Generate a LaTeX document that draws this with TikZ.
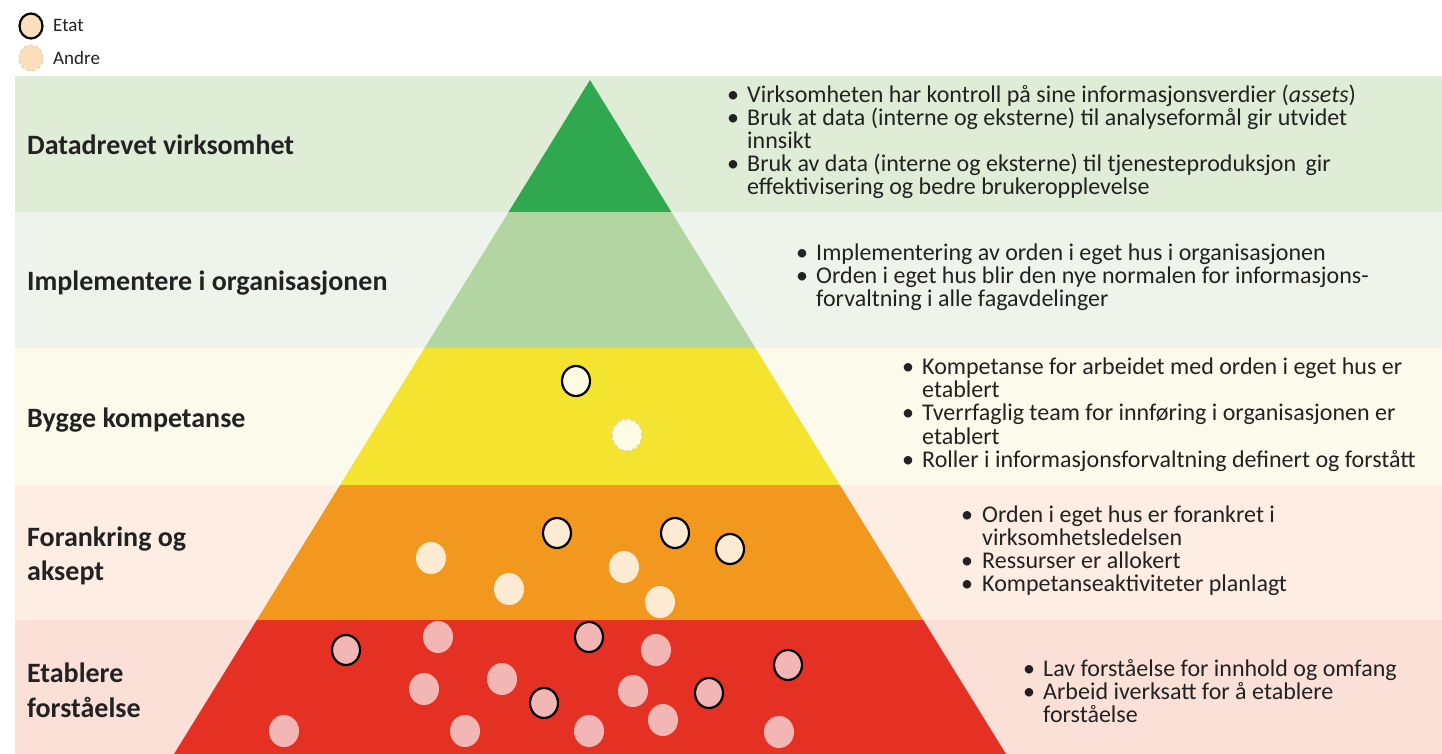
\documentclass[tikz,border=0pt]{standalone}
\usepackage{fontspec}
\setmainfont{Carlito}
\usetikzlibrary{shapes.geometric}
\definecolor{bandA}{HTML}{DFECD6}
\definecolor{bandB}{HTML}{EEF4EC}
\definecolor{bandC}{HTML}{FCFAEA}
\definecolor{bandD}{HTML}{FDEDE2}
\definecolor{bandE}{HTML}{FBE0D7}
\definecolor{pyrA}{HTML}{2FA84F}
\definecolor{pyrB}{HTML}{B2D5A2}
\definecolor{pyrC}{HTML}{F4E32F}
\definecolor{pyrD}{HTML}{F3981F}
\definecolor{pyrE}{HTML}{E43123}
\definecolor{txt}{HTML}{222222}
\definecolor{creamC}{HTML}{FFFBE2}
\definecolor{creamD}{HTML}{FCEBD2}
\definecolor{pinkE}{HTML}{F2B7B5}
\definecolor{legfill}{HTML}{FBDFBC}
\definecolor{dashcol}{HTML}{DCD3A8}
\tikzset{
  dot/.style={ellipse, minimum width=30pt, minimum height=32pt, inner sep=0pt},
  etat/.style={dot, draw=black, line width=2.2pt, minimum width=28pt, minimum height=30pt},
  andre/.style={dot},
  lab/.style={anchor=base west, inner sep=0pt, text=txt, font=\fontsize{28}{31}\selectfont\bfseries},
  bul/.style={anchor=base west, inner sep=0pt, text=txt, font=\fontsize{24}{26}\selectfont},
  leg/.style={anchor=base west, inner sep=0pt, text=txt, font=\fontsize{19}{21}\selectfont},
}
\begin{document}
\begin{tikzpicture}[x=1pt,y=-1pt]
\useasboundingbox (0,0) rectangle (1442,754);
\clip (0,0) rectangle (1442,754);
\fill[white] (0,0) rectangle (1442,754);
% bands
\fill[bandA] (15,76) rectangle (1442,212);
\fill[bandB] (15,212) rectangle (1442,348);
\fill[bandC] (15,348) rectangle (1442,485);
\fill[bandD] (15,485) rectangle (1442,620);
\fill[bandE] (15,620) rectangle (1442,754);
% pyramid
\fill[pyrA] (590,80) -- (671.4,212) -- (508.6,212) -- cycle;
\fill[pyrB] (508.6,212) -- (671.4,212) -- (755.4,348) -- (424.6,348) -- cycle;
\fill[pyrC] (424.6,348) -- (755.4,348) -- (839.9,485) -- (340.1,485) -- cycle;
\fill[pyrD] (340.1,485) -- (839.9,485) -- (923.2,620) -- (256.8,620) -- cycle;
\fill[pyrE] (256.8,620) -- (923.2,620) -- (1006,754) -- (174,754) -- cycle;
% legend
\node[etat, fill=legfill, minimum width=23pt, minimum height=25pt] (legE) at (31,26) {};
\node[andre, fill=legfill, draw=dashcol, dashed, line width=1pt, minimum width=24pt, minimum height=26pt] (legA) at (31,58) {};
\node[leg] (legEt) at (53,32) {Etat};
\node[leg] (legAt) at (53,65) {Andre};
% labels
\node[lab] (l1) at (27,155) {Datadrevet virksomhet};
\node[lab] (l2) at (27,290) {Implementere i organisasjonen};
\node[lab] (l3) at (27,427) {Bygge kompetanse};
\node[lab] (l4a) at (27,546) {Forankring og};
\node[lab] (l4b) at (27,580) {aksept};
\node[lab] (l5a) at (27,682) {Etablere};
\node[lab] (l5b) at (27,717) {forståelse};
% band 1 text
\node[bul] (b1a) at (727,103) {•};
\node[bul] (t1a) at (747,103) {Virksomheten har kontroll på sine informasjonsverdier (\textit{assets})};
\node[bul] (b1b) at (727,126) {•};
\node[bul] (t1b) at (747,126) {Bruk at data (interne og eksterne) til analyseformål gir utvidet};
\node[bul] (t1c) at (747,149) {innsikt};
\node[bul] (b1d) at (727,172) {•};
\node[bul] (t1d) at (747,172) {Bruk av data (interne og eksterne) til tjenesteproduksjon\, gir};
\node[bul] (t1e) at (747,195) {effektivisering og bedre brukeropplevelse};
% band 2 text
\node[bul] (b2a) at (796,260) {•};
\node[bul] (t2a) at (816,260) {Implementering av orden i eget hus i organisasjonen};
\node[bul] (b2b) at (796,283) {•};
\node[bul] (t2b) at (816,283) {Orden i eget hus blir den nye normalen for informasjons-};
\node[bul] (t2c) at (816,306) {forvaltning i alle fagavdelinger};
% band 3 text
\node[bul] (b3a) at (902,374) {•};
\node[bul] (t3a) at (922,374) {Kompetanse for arbeidet med orden i eget hus er};
\node[bul] (t3b) at (922,397) {etablert};
\node[bul] (b3c) at (902,420) {•};
\node[bul] (t3c) at (922,420) {Tverrfaglig team for innføring i organisasjonen er};
\node[bul] (t3d) at (922,444) {etablert};
\node[bul] (b3e) at (902,467) {•};
\node[bul] (t3e) at (922,467) {Roller i informasjonsforvaltning definert og forstått};
% band 4 text
\node[bul] (b4a) at (961,522) {•};
\node[bul] (t4a) at (982,522) {Orden i eget hus er forankret i};
\node[bul] (t4b) at (982,545) {virksomhetsledelsen};
\node[bul] (b4c) at (961,568) {•};
\node[bul] (t4c) at (982,568) {Ressurser er allokert};
\node[bul] (b4d) at (961,591) {•};
\node[bul] (t4d) at (982,591) {Kompetanseaktiviteter planlagt};
% band 5 text
\node[bul] (b5a) at (1023,676) {•};
\node[bul] (t5a) at (1043,676) {Lav forståelse for innhold og omfang};
\node[bul] (b5b) at (1023,699) {•};
\node[bul] (t5b) at (1043,699) {Arbeid iverksatt for å etablere};
\node[bul] (t5c) at (1043,722) {forståelse};
% yellow band circles
\node[etat, fill=creamC] (c3a) at (576,381) {};
\node[andre, fill=creamC, draw=dashcol, dashed, line width=1.4pt] (c3b) at (627,435) {};
% orange band circles
\node[etat, fill=creamD] (c4a) at (557,533) {};
\node[etat, fill=creamD] (c4b) at (675,533) {};
\node[etat, fill=creamD] (c4c) at (730,549) {};
\node[andre, fill=creamD] (c4d) at (431,558) {};
\node[andre, fill=creamD] (c4e) at (509,589) {};
\node[andre, fill=creamD] (c4f) at (624,567) {};
\node[andre, fill=creamD] (c4g) at (660,602) {};
% red band circles
\node[etat, fill=pinkE] (c5a) at (346,650) {};
\node[etat, fill=pinkE] (c5b) at (589,637) {};
\node[etat, fill=pinkE] (c5c) at (788,665) {};
\node[etat, fill=pinkE] (c5d) at (544,703) {};
\node[etat, fill=pinkE] (c5e) at (709,693) {};
\node[andre, fill=pinkE] (c5f) at (438,637) {};
\node[andre, fill=pinkE] (c5g) at (656,650) {};
\node[andre, fill=pinkE] (c5h) at (424,689) {};
\node[andre, fill=pinkE] (c5i) at (502,679) {};
\node[andre, fill=pinkE] (c5j) at (633,691) {};
\node[andre, fill=pinkE] (c5k) at (663,720) {};
\node[andre, fill=pinkE] (c5l) at (284,731) {};
\node[andre, fill=pinkE] (c5m) at (465,731) {};
\node[andre, fill=pinkE] (c5n) at (589,731) {};
\node[andre, fill=pinkE] (c5o) at (779,732) {};
\end{tikzpicture}
\end{document}
